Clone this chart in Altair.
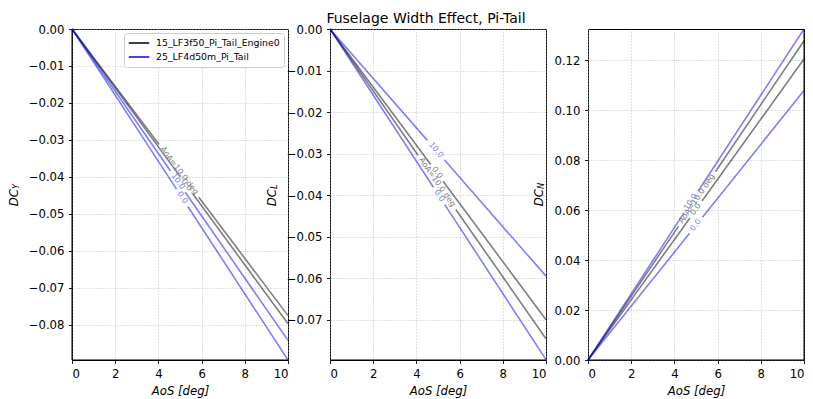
import math
import altair as alt
import pandas as pd

# ---------------- data ----------------
AOS = [0.0, 10.0]
CONFIGS = ["15_LF3f50_Pi_Tail_Engine0", "25_LF4d50m_Pi_Tail"]

# DC_Y vs AoS
DCY_15_A = [0.0, -0.0775]
DCY_15_B = [0.0, -0.0797]
DCY_25_A = [0.0, -0.0842]
DCY_25_B = [0.0, -0.0895]
# DC_L vs AoS
DCL_15_A = [0.0, -0.0700]
DCL_15_B = [0.0, -0.0746]
DCL_25_A = [0.0, -0.0595]
DCL_25_B = [0.0, -0.0796]
# DC_N vs AoS
DCN_15_A = [0.0, 0.1277]
DCN_15_B = [0.0, 0.1204]
DCN_25_A = [0.0, 0.1324]
DCN_25_B = [0.0, 0.1078]

X_TICKS = [0, 2, 4, 6, 8, 10]
DCY_TICKS = [0.0, -0.01, -0.02, -0.03, -0.04, -0.05, -0.06, -0.07, -0.08]
DCL_TICKS = [0.0, -0.01, -0.02, -0.03, -0.04, -0.05, -0.06, -0.07]
DCN_TICKS = [0.0, 0.02, 0.04, 0.06, 0.08, 0.10, 0.12]

# (config index, inline label, series, label position on AoS axis)
PANEL_Y = [(0, "AoA=10.0 deg", DCY_15_A, 4.95), (0, "0.0", DCY_15_B, 5.3),
           (1, "10.0", DCY_25_A, 4.9), (1, "0.0", DCY_25_B, 5.1)]
PANEL_L = [(0, "0.0", DCL_15_A, 4.95), (0, "AoA=10.0 deg", DCL_15_B, 4.95),
           (1, "10.0", DCL_25_A, 4.9), (1, "0.0", DCL_25_B, 5.05)]
PANEL_N = [(0, "AoA=10.0 deg", DCN_15_A, 5.05), (0, "0.0", DCN_15_B, 5.0),
           (1, "10.0", DCN_25_A, 4.77), (1, "0.0", DCN_25_B, 5.0)]

# edges of each panel that carry an extra grey contour line
EDGES_Y = ["left", "bottom"]
EDGES_L = ["bottom"]
EDGES_N = ["bottom", "right"]

# ---------------- style ----------------
W, H = 216, 331
FONT = "DejaVu Sans"
LINE_COLORS = ["black", "blue"]
LABEL_COLORS = ["#808080", "#8080ff"]
LABEL_SIZE = 8
CHAR_W = {'A': .684, 'o': .612, '=': .838, '1': .636, '0': .636, '.': .318,
          ' ': .318, 'd': .635, 'e': .615, 'g': .635}


def text_width(s, size):
    return sum(CHAR_W.get(c, .6) for c in s) * size


def panel(series, domain, ticks, sub, sub_dx, edges, title=None, legend=False):
    lo, hi = domain
    rows, labs, ids, dashes = [], [], [], []
    for i, (ci, lab, vals, xl) in enumerate(series):
        for a, v in zip(AOS, vals):
            rows.append(dict(aos=a, dc=v, config=CONFIGS[ci], lid=i))
        dxp = W * (AOS[1] - AOS[0]) / 10.0
        dyp = -(vals[1] - vals[0]) / (hi - lo) * H
        length = math.hypot(dxp, dyp)
        ang = math.degrees(math.atan2(dyp, dxp)) % 360
        d = length * (xl - AOS[0]) / (AOS[1] - AOS[0])
        gap = text_width(lab, LABEL_SIZE) + 8
        ids.append(i)
        dashes.append([max(d - gap / 2, 0.1), gap, length + 200])
        yl = vals[0] + (vals[1] - vals[0]) * (xl - AOS[0]) / (AOS[1] - AOS[0])
        labs.append(dict(aos=xl, dc=yl, text=lab, angle=ang, col=LABEL_COLORS[ci]))

    df = pd.DataFrame(rows)
    ldf = pd.DataFrame(labs)

    xenc = alt.X("aos:Q", scale=alt.Scale(domain=[0, 10], nice=False),
                 axis=alt.Axis(values=X_TICKS, title="AoS [deg]", titleFontStyle="italic",
                               format="d"))
    yenc = alt.Y("dc:Q", scale=alt.Scale(domain=[lo, hi], nice=False, zero=False),
                 axis=alt.Axis(values=ticks, format=".2f", title=None))

    if legend:
        leg = alt.Legend(title=None, orient="top-right", offset=4, symbolType="stroke",
                         symbolSize=420, symbolStrokeWidth=1.5, symbolOpacity=1,
                         labelFont=FONT, labelFontSize=9.4, labelColor="black",
                         fillColor="white", strokeColor="#cccccc", cornerRadius=3,
                         padding=4, rowPadding=2, clipHeight=12, labelLimit=400,
                         symbolOffset=0, labelOffset=6)
    else:
        leg = None

    # grey contour pieces lying on the panel border
    erows = []
    for e in edges:
        if e == "left":
            erows.append(dict(x1=0, x2=0, y1=lo, y2=hi))
        elif e == "right":
            erows.append(dict(x1=10, x2=10, y1=lo, y2=hi))
        elif e == "bottom":
            erows.append(dict(x1=0, x2=10, y1=lo, y2=lo))
        elif e == "top":
            erows.append(dict(x1=0, x2=10, y1=hi, y2=hi))
    edge = alt.Chart(pd.DataFrame(erows)).mark_rule(
        color="black", opacity=0.5, strokeWidth=2.0).encode(
        x=alt.X("x1:Q", scale=alt.Scale(domain=[0, 10], nice=False)), x2="x2:Q",
        y=alt.Y("y1:Q", scale=alt.Scale(domain=[lo, hi], nice=False, zero=False)), y2="y2:Q")

    lines = alt.Chart(df).mark_line(strokeWidth=1.6, opacity=0.5).encode(
        x=xenc, y=yenc,
        color=alt.Color("config:N", scale=alt.Scale(domain=CONFIGS, range=LINE_COLORS),
                        legend=leg),
        strokeDash=alt.StrokeDash("lid:N", scale=alt.Scale(domain=ids, range=dashes),
                                  legend=None),
    )
    texts = alt.Chart(ldf).mark_text(font=FONT, fontSize=LABEL_SIZE, align="center",
                                     baseline="middle").encode(
        x="aos:Q", y="dc:Q", text="text:N",
        angle=alt.Angle("angle:Q", scale=None),
        color=alt.Color("col:N", scale=None),
    )
    one = pd.DataFrame({"k": [0]})
    ytitle = alt.Chart(one).mark_text(font=FONT, fontSize=11.7, fontStyle="italic",
                                      angle=270, align="right", baseline="middle",
                                      color="black").encode(
        x=alt.value(sub_dx), y=alt.value(H / 2 - 5.5), text=alt.value("DC"))
    ysub = alt.Chart(one).mark_text(font=FONT, fontSize=8.2, fontStyle="italic",
                                    angle=270, align="left", baseline="middle",
                                    dy=3, color="black").encode(
        x=alt.value(sub_dx), y=alt.value(H / 2 - 5.5), text=alt.value(sub))

    props = dict(width=W, height=H)
    if title:
        props["title"] = alt.TitleParams(title, fontSize=14, font=FONT, fontWeight="normal",
                                         color="black", dx=-12, offset=-2)
    return alt.layer(edge, lines, texts, ytitle, ysub).properties(**props)


p1 = panel(PANEL_Y, (-0.0895, 0.0), DCY_TICKS, "Y", -58, EDGES_Y, legend=True)
p2 = panel(PANEL_L, (-0.0797, 0.0), DCL_TICKS, "L", -58, EDGES_L,
           title="Fuselage Width Effect, Pi-Tail")
p3 = panel(PANEL_N, (0.0, 0.1324), DCN_TICKS, "N", -49, EDGES_N)

chart = alt.hconcat(p1, p2, p3, spacing=42, bounds="flush").resolve_scale(
    color="independent", strokeDash="independent"
).properties(
    padding={"left": 8, "top": 11, "right": 5, "bottom": 5}
).configure_axis(
    labelFont=FONT, labelFontSize=11.7, labelColor="black", tickColor="black",
    tickSize=3.5, tickWidth=0.9, labelPadding=4.5, domain=False,
    gridColor="#b0b0b0", gridDash=[1, 2], gridWidth=0.8,
    titleFont=FONT, titleFontSize=11.7, titleFontWeight="normal", titleColor="black",
    titlePadding=6,
).configure_view(stroke="black", strokeWidth=1)

chart.save("out.html", embed_options={"renderer": "svg", "actions": False})
